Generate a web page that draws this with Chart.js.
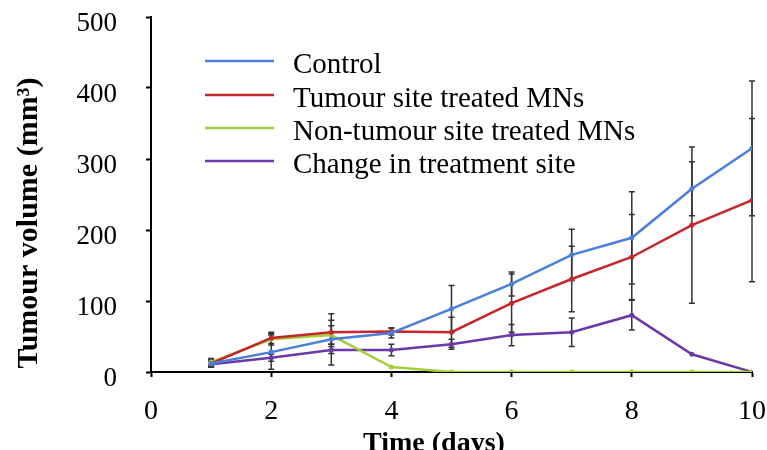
<!DOCTYPE html>
<html>
<head>
<meta charset="utf-8">
<script src="https://cdn.jsdelivr.net/npm/chart.js@4"></script>
<style>
  html, body { margin: 0; padding: 0; background: #fff; }
  #wrap { width: 767px; height: 450px; }
</style>
</head>
<body>
<div id="wrap"><canvas id="chart" width="767" height="450"></canvas></div>
<script>
// data
const days = [1, 2, 3, 4, 5, 6, 7, 8, 9, 10];
const controlVol = [12, 28, 46, 55, 89, 124, 165, 189, 258, 315];
const tumourSiteVol = [12, 48, 56, 57, 56, 97, 131, 162, 207, 242];
const nonTumourSiteVol = [14, 46, 52, 7, 0, 0, 0, 0, 0, 0];
const changeSiteVol = [11, 20, 31, 31, 39, 52, 56, 80, 25, 0];

// error bar half-widths (mm3)
const controlErr = [5, 24, 36, 7, 33, 17, 36, 65, 38, 95];
const tumourSiteErr = [5, 8, 17, 5, 21, 41, 46, 60, 110, 115];
const nonTumourSiteErr = [5, 8, 13, 0, 0, 0, 0, 0, 0, 0];
const changeSiteErr = [4, 5, 5, 8, 7, 15, 20, 21, 0, 0];

const seriesLabels = ['Control', 'Tumour site treated MNs', 'Non-tumour site treated MNs', 'Change in treatment site'];
const seriesColors = ['#4a7fdc', '#c4262b', '#a2cf3a', '#6b38a8'];

const yTicks = [0, 100, 200, 300, 400, 500];
const xTicks = [0, 2, 4, 6, 8, 10];

const FONT = '"Liberation Serif", "Times New Roman", serif';

function pts(vals) {
  return days.map((d, i) => ({ x: d, y: vals[i] }));
}

const allVals = [controlVol, tumourSiteVol, nonTumourSiteVol, changeSiteVol];
const allErr = [controlErr, tumourSiteErr, nonTumourSiteErr, changeSiteErr];

// error bars, drawn under the lines
const errorBars = {
  id: 'errorBars',
  beforeDatasetsDraw(chart) {
    const { ctx, scales: { x, y } } = chart;
    ctx.save();
    ctx.strokeStyle = '#333';
    ctx.lineWidth = 1.5;
    allVals.forEach((vals, s) => {
      vals.forEach((v, i) => {
        const e = allErr[s][i];
        if (!e) return;
        const px = x.getPixelForValue(days[i]);
        const top = y.getPixelForValue(v + e);
        const bot = y.getPixelForValue(Math.max(0, v - e));
        ctx.beginPath();
        ctx.moveTo(px, top); ctx.lineTo(px, bot);
        ctx.moveTo(px - 3, top); ctx.lineTo(px + 3, top);
        ctx.moveTo(px - 3, bot); ctx.lineTo(px + 3, bot);
        ctx.stroke();
      });
    });
    ctx.restore();
  }
};

// legend inside the plot + axis titles
const extras = {
  id: 'extras',
  afterDraw(chart) {
    const ctx = chart.ctx;
    ctx.save();
    const baselines = [73, 107, 140, 173];
    ctx.font = '29px ' + FONT;
    ctx.fillStyle = '#000';
    ctx.textBaseline = 'alphabetic';
    seriesLabels.forEach((lab, i) => {
      ctx.strokeStyle = seriesColors[i];
      ctx.lineWidth = 2.5;
      ctx.beginPath();
      ctx.moveTo(205, baselines[i] - 12);
      ctx.lineTo(274, baselines[i] - 12);
      ctx.stroke();
      ctx.fillText(lab, 293, baselines[i]);
    });

    ctx.font = 'bold 28px ' + FONT;
    ctx.textAlign = 'center';
    ctx.textBaseline = 'middle';
    ctx.fillText('Time (days)', 434, 444);

    ctx.translate(29, 223);
    ctx.rotate(-Math.PI / 2);
    ctx.font = 'bold 30px ' + FONT;
    ctx.fillText('Tumour volume (mm\u00b3)', 0, 0);
    ctx.restore();
  }
};

const ctx = document.getElementById('chart').getContext('2d');

new Chart(ctx, {
  type: 'line',
  data: {
    datasets: allVals.map((vals, i) => ({
      label: seriesLabels[i],
      data: pts(vals),
      borderColor: seriesColors[i],
      backgroundColor: seriesColors[i],
      borderWidth: 2.5,
      pointRadius: 2.5,
      pointBorderWidth: 0,
      tension: 0,
      fill: false
    }))
  },
  options: {
    responsive: false,
    animation: false,
    layout: { padding: { top: 17, right: 15, left: 0, bottom: 0 } },
    plugins: {
      legend: { display: false },
      tooltip: { enabled: false }
    },
    scales: {
      x: {
        type: 'linear',
        min: 0,
        max: 10,
        afterBuildTicks(scale) { scale.ticks = xTicks.map(v => ({ value: v })); },
        afterFit(scale) {
          scale.height = 78;
          scale.paddingLeft = 0; scale.paddingRight = 0;
        },
        grid: { drawOnChartArea: false, drawTicks: true, tickLength: 5, tickColor: '#000', tickWidth: 2 },
        border: { display: true, color: '#000', width: 2 },
        ticks: { color: '#000', font: { family: FONT, size: 28 }, padding: 18, maxRotation: 0 }
      },
      y: {
        min: 0,
        max: 500,
        afterBuildTicks(scale) { scale.ticks = yTicks.map(v => ({ value: v })); },
        afterFit(scale) {
          scale.width = 151;
          scale.paddingTop = 0; scale.paddingBottom = 0;
        },
        grid: { drawOnChartArea: false, drawTicks: true, tickLength: 5, tickColor: '#000', tickWidth: 2 },
        border: { display: true, color: '#000', width: 2 },
        ticks: { color: '#000', font: { family: FONT, size: 27 }, padding: 29, labelOffset: 7 }
      }
    }
  },
  plugins: [errorBars, extras]
});
</script>
</body>
</html>
